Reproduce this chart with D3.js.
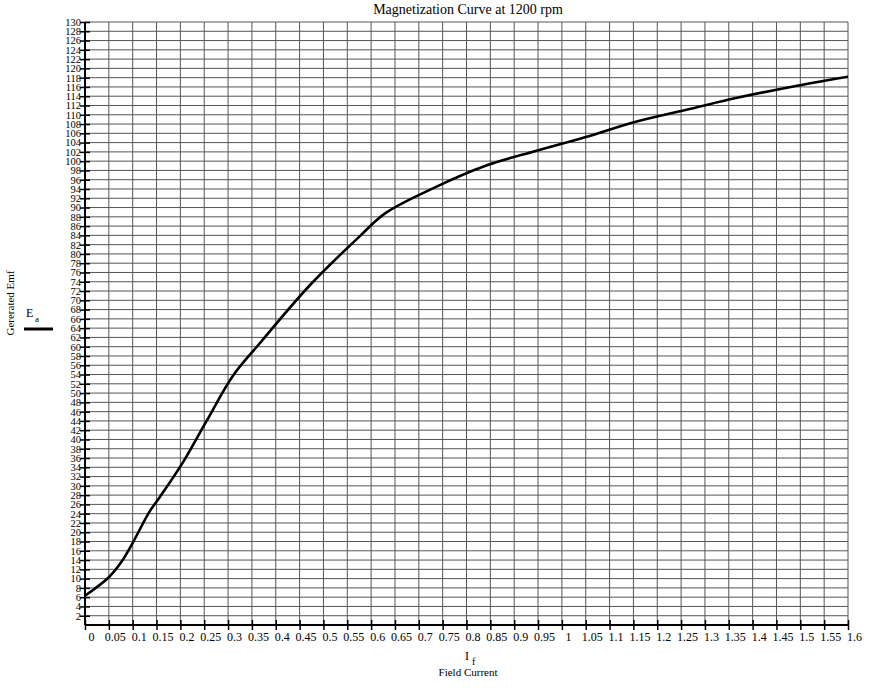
<!DOCTYPE html><html><head><meta charset="utf-8"><script src="https://d3js.org/d3.v7.min.js"></script>
<style>body{margin:0;background:#fff}text{font-family:"Liberation Serif",serif;fill:#000}</style></head><body><svg id="c" width="891" height="690"></svg><script>
const fieldCurrent=[0,0.05,0.075,0.1,0.135,0.157,0.205,0.255,0.31,0.367,0.472,0.577,0.63,0.735,0.84,0.945,1.05,1.155,1.27,1.365,1.48,1.6];
const emf=[6.3,10.3,13.4,17.7,24.4,27.6,35,44,53.7,60.8,73.3,83.9,88.8,94.4,99,102.2,105.2,108.5,111.3,113.6,116,118.2];
const xTicks=d3.range(0,33).map(i=>+(i*0.05).toFixed(2));
const yTicks=d3.range(2,131,2);
const svg=d3.select("#c");
const L=85,R=848,T=22,B=625;
const x=d3.scaleLinear().domain([0,1.6]).range([L,R]);
const y=d3.scaleLinear().domain([0,130]).range([B,T]);
const g=svg.append("g");
g.selectAll(".v").data(xTicks).join("line").attr("x1",d=>x(d)).attr("x2",d=>x(d)).attr("y1",T).attr("y2",B).attr("stroke","#555").attr("stroke-width",1);
g.selectAll(".h").data(yTicks).join("line").attr("x1",L).attr("x2",R).attr("y1",d=>y(d)).attr("y2",d=>y(d)).attr("stroke","#555").attr("stroke-width",1);
const ya=svg.append("g").attr("transform",`translate(${L},0)`).call(d3.axisLeft(y).tickValues(yTicks).tickSize(4).tickFormat(d3.format("d")));
ya.selectAll(".tick line").attr("x1",-5).attr("x2",5).attr("stroke-width",1.5);
ya.selectAll("text").attr("font-size",10.5).attr("x",-4).attr("font-family","Liberation Serif");
ya.select(".domain").attr("stroke-width",2).attr("d",`M0,${T}V${B}`);
const xa=svg.append("g").attr("transform",`translate(0,${B})`).call(d3.axisBottom(x).tickValues(xTicks).tickSize(5).tickFormat(d=>String(d)));
xa.selectAll(".tick line").attr("y1",-5).attr("y2",5).attr("stroke-width",1.5);
xa.selectAll("text").attr("font-size",12).attr("y",7).attr("font-family","Liberation Serif").attr("dx",6);
xa.select(".domain").attr("stroke-width",2).attr("d",`M${L},0H${R}`);
svg.append("path").datum(fieldCurrent.map((f,i)=>[f,emf[i]])).attr("fill","none").attr("stroke","#000").attr("stroke-width",2.6)
 .attr("d",d3.line().x(d=>x(d[0])).y(d=>y(d[1])).curve(d3.curveCatmullRom.alpha(0.5)));
svg.append("text").attr("x",468).attr("y",14).attr("text-anchor","middle").attr("font-size",14).text("Magnetization Curve at 1200 rpm");
svg.append("text").attr("transform","translate(14,303) rotate(-90)").attr("text-anchor","middle").attr("font-size",11).text("Gererated Emf");
svg.append("text").attr("x",26).attr("y",317).attr("font-size",12).text("E");
svg.append("text").attr("x",35).attr("y",322).attr("font-size",9).text("a");
svg.append("line").attr("x1",24).attr("x2",53).attr("y1",329).attr("y2",329).attr("stroke","#000").attr("stroke-width",3);
svg.append("text").attr("x",465).attr("y",660).attr("font-size",12).text("I");
svg.append("text").attr("x",472).attr("y",665).attr("font-size",10).text("f");
svg.append("text").attr("x",468).attr("y",676).attr("text-anchor","middle").attr("font-size",11).text("Field Current");
</script></body></html>
